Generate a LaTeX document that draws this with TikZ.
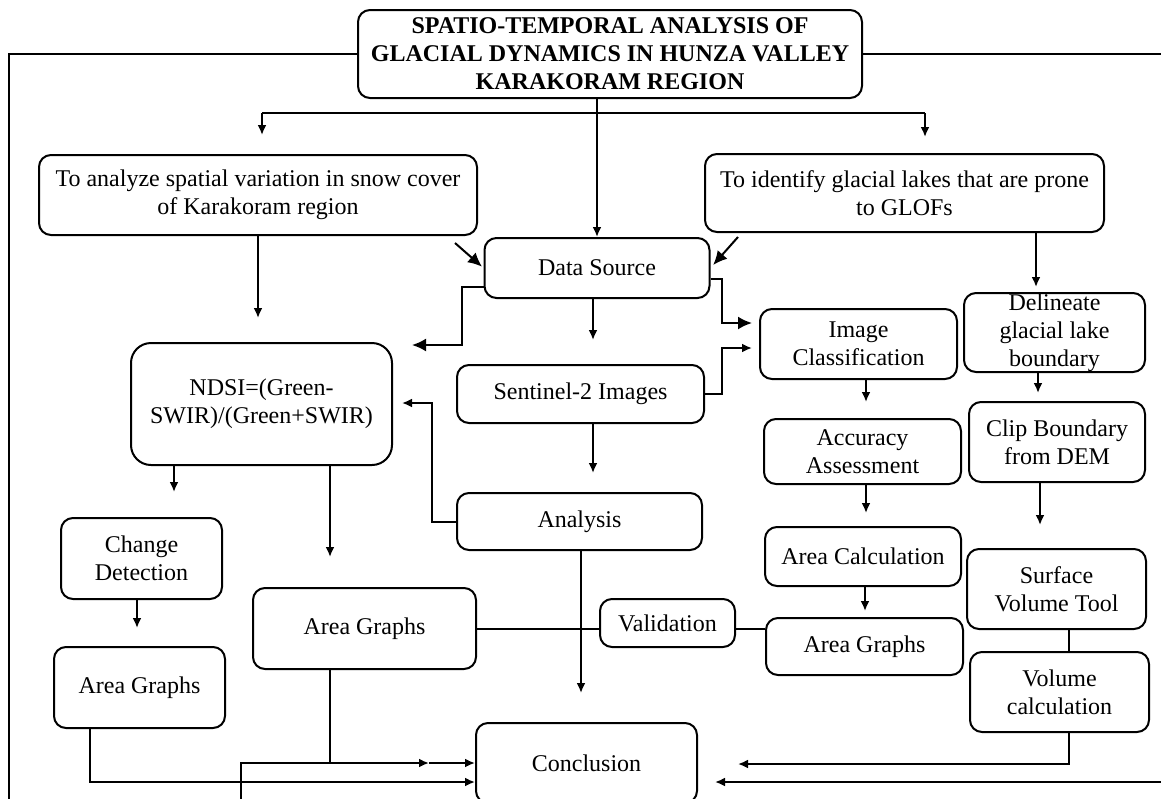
\documentclass[tikz,border=0pt]{standalone}
\usepackage{fontspec}
\setmainfont{Liberation Serif}
\usetikzlibrary{arrows.meta}

\begin{document}
\begin{tikzpicture}[x=0.5pt,y=-0.5pt,line width=1pt]
% Styles
\tikzstyle{boite}=[draw,rounded corners=6pt,align=center,inner sep=2pt,font=\fontsize{12}{14}\selectfont]
\tikzstyle{gras}=[font=\fontsize{12}{14}\selectfont\bfseries]
\tikzstyle{fleche}=[-{Latex[length=5pt,width=4.5pt]}]
\tikzstyle{grandefleche}=[-{Latex[length=7pt,width=6.5pt]}]
% Dimensions
\def\largeur{1161}
\def\hauteur{798}
\def\droite{1175}
\def\bas{830}
\def\branche{113}
% Cadre
\useasboundingbox (0,0) rectangle (\largeur,\hauteur);
\clip (0,0) rectangle (\largeur,\hauteur);
% Titre
\node[boite,gras,minimum width=252pt,minimum height=44pt] (titre) at (610,54) {SPATIO-TEMPORAL ANALYSIS OF\\GLACIAL DYNAMICS IN HUNZA VALLEY\\KARAKORAM REGION};
% Objectifs
\node[boite,minimum width=219pt,minimum height=40pt] (obj1) at (258,195) {To analyze spatial variation in snow cover\\of Karakoram region};
\node[boite,minimum width=199.5pt,minimum height=39pt] (obj2) at (904.5,193) {To identify glacial lakes that are prone\\to GLOFs};
% Colonne centrale
\node[boite,minimum width=112.5pt,minimum height=30pt] (source) at (597,268) {Data Source};
\node[boite,minimum width=123.5pt,minimum height=29pt] (sentinel) at (580.5,394) {Sentinel-2 Images};
\node[boite,minimum width=122.5pt,minimum height=28.5pt] (analyse) at (579.5,521.5) {Analysis};
\node[boite,minimum width=67.5pt,minimum height=24pt] (validation) at (667.5,623) {Validation};
\node[boite,minimum width=110.5pt,minimum height=40pt] (conclusion) at (586.5,763) {Conclusion};
% Colonne gauche
\node[boite,rounded corners=10pt,minimum width=130.5pt,minimum height=61pt] (ndsi) at (261.5,404) {NDSI=(Green-\\SWIR)/(Green+SWIR)};
\node[boite,minimum width=80.5pt,minimum height=40.5pt] (changement) at (141.5,558.5) {Change\\Detection};
\node[boite,minimum width=85.5pt,minimum height=40.5pt] (graphes1) at (139.5,687.5) {Area Graphs};
\node[boite,minimum width=111.5pt,minimum height=40.5pt] (graphes2) at (364.5,628.5) {Area Graphs};
% Colonne droite
\node[boite,minimum width=98.5pt,minimum height=35pt] (classification) at (858.5,344) {Image\\Classification};
\node[boite,minimum width=98.5pt,minimum height=32.5pt] (precision) at (862.5,451.5) {Accuracy\\Assessment};
\node[boite,minimum width=98pt,minimum height=29.5pt] (calcul) at (863,556.5) {Area Calculation};
\node[boite,minimum width=98.5pt,minimum height=28.5pt] (graphes3) at (864.5,646.5) {Area Graphs};
\node[boite,minimum width=90.5pt,minimum height=39.5pt,inner sep=0pt] (delimiter) at (1054.5,332.5) {Delineate\\glacial lake\\boundary};
\node[boite,minimum width=88pt,minimum height=40pt] (decoupage) at (1057,442) {Clip Boundary\\from DEM};
\node[boite,minimum width=89.5pt,minimum height=40pt] (surface) at (1056.5,589) {Surface\\Volume Tool};
\node[boite,minimum width=89.5pt,minimum height=40pt] (volume) at (1059.5,692) {Volume\\calculation};
% Points libres
\coordinate (bg) at (262,\branche);
\coordinate (bd) at (925,\branche);
\coordinate (tg) at (262,135);
\coordinate (td) at (925,137);
\coordinate (d1) at (455,243);
\coordinate (d2) at (738,237);
\coordinate (t1) at (258,318);
\coordinate (t2) at (1036,287);
\coordinate (c1) at (412,345);
\coordinate (c2) at (752,323);
\coordinate (c3) at (593,340);
\coordinate (c4) at (752,348);
\coordinate (c5) at (593,473);
\coordinate (c6) at (402,403);
\coordinate (c7) at (581,693);
\coordinate (c8) at (174,492);
\coordinate (c9) at (330,557);
\coordinate (c10) at (137,628);
\coordinate (c11) at (866,402);
\coordinate (c12) at (866,513);
\coordinate (c13) at (865,611);
\coordinate (c14) at (1038,393);
\coordinate (c15) at (1040,525);
\coordinate (c16) at (1069,764);
\coordinate (c17) at (738,764);
\coordinate (c18) at (715,782);
\coordinate (k1) at (9,\bas);
\coordinate (k2) at (241,\bas);
\coordinate (k3) at (\droite,54);
\coordinate (k4) at (\droite,782);
\coordinate (m1) at (429,763);
\coordinate (j1) at (330,763);
\coordinate (j2) at (90,782);
% Titre vers objectifs
\draw (bg) -- (bd);
\draw[fleche] (bg) -- (tg);
\draw[fleche] (bd) -- (td);
\draw[fleche] (source.north |- titre.south) -- (source.north);
% Objectifs vers données
\draw[grandefleche,shorten >=1pt] (d1) -- (source.west);
\draw[grandefleche,shorten >=2pt] (d2) -- (source.east);
\draw[fleche] (obj1.south) -- (t1);
\draw[fleche] (t2 |- obj2.south) -- (t2);
% Source des données
\draw[grandefleche] ([yshift=-9.5pt]source.west) -| ([xshift=25pt]c1) -- (c1);
\draw[grandefleche] ([yshift=-5.5pt]source.east) -| ([xshift=-15pt]c2) -- (c2);
\draw[fleche] (c3 |- source.south) -- (c3);
% Images
\draw[fleche] (sentinel.east) -| ([xshift=-15pt]c4) -- (c4);
\draw[fleche] (c5 |- sentinel.south) -- (c5);
% Analyse
\draw[fleche] (analyse.west) -| ([xshift=15pt]c6) -- (c6);
\draw[fleche] (c7 |- analyse.south) -- (c7);
% NDSI
\draw[fleche] (c8 |- ndsi.south) -- (c8);
\draw[fleche] (c9 |- ndsi.south) -- (c9);
\draw[fleche] (c10 |- changement.south) -- (c10);
% Validation
\draw (graphes2.east) -- (validation.west |- graphes2.east);
\draw (validation.east |- graphes2.east) -- (graphes3.west |- graphes2.east);
% Chaîne de droite
\draw[fleche] (c11 |- classification.south) -- (c11);
\draw[fleche] (c12 |- precision.south) -- (c12);
\draw[fleche] (c13 |- calcul.south) -- (c13);
\draw[fleche] (c14 |- delimiter.south) -- (c14);
\draw[fleche] (c15 |- decoupage.south) -- (c15);
\draw (c16 |- surface.south) -- (c16 |- volume.north);
\draw[fleche] (c16 |- volume.south) -- (c16) -- (c17);
% Conclusion
\draw[fleche] (titre.west) -| (k1) -- (k2) |- (m1);
\draw[fleche] (m1) -- (conclusion.west);
\draw (j1 |- graphes2.south) -- (j1);
\draw[fleche] (j2 |- graphes1.south) |- ([yshift=-9.5pt]conclusion.west);
\draw (titre.east) -- (k3);
\draw[fleche] (k4) -- (c18);
\end{tikzpicture}
\end{document}
